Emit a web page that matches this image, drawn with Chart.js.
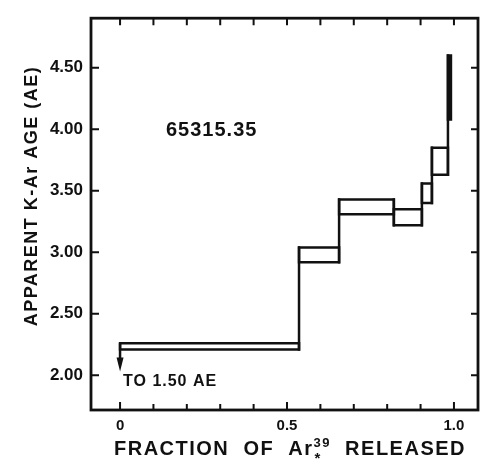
<!DOCTYPE html>
<html>
<head>
<meta charset="utf-8">
<script src="https://cdn.jsdelivr.net/npm/chart.js@4.4.0/dist/chart.umd.min.js"></script>
<style>
html,body{margin:0;padding:0;background:#fff;}
#wrap{width:483px;height:464px;}
</style>
</head>
<body>
<div id="wrap"><canvas id="c" width="483" height="464"></canvas></div>
<script>
// ---- data ----
const fractionEdges = [0, 0.536, 0.656, 0.820, 0.904, 0.934, 0.982, 0.991];
const ageLow  = [2.21, 2.92, 3.31, 3.22, 3.40, 3.63, 4.08];
const ageHigh = [2.26, 3.04, 3.43, 3.35, 3.56, 3.85, 4.60];
const arrowTipAge = 2.03;           // first step continues down (to 1.50 AE)
const xTickValues = [0, 0.1, 0.2, 0.3, 0.4, 0.5, 0.6, 0.7, 0.8, 0.9, 1.0];
const xTickLabels = ['0', '', '', '', '', '0.5', '', '', '', '', '1.0'];
const yTickValues = [2.0, 2.5, 3.0, 3.5, 4.0, 4.5];
const yTickLabels = ['2.00', '2.50', '3.00', '3.50', '4.00', '4.50'];
const sampleLabel = '65315.35';
const arrowLabel = 'TO 1.50 AE';
const yTitle = 'APPARENT K-Ar AGE (AE)';
const xTitleParts = ['FRACTION  OF  Ar', '39', '*', '  RELEASED'];

const INK = '#111';
const FONT = '"Liberation Sans", Arial, sans-serif';

function boxPoints(i) {
  const x0 = fractionEdges[i], x1 = fractionEdges[i + 1];
  const lo = ageLow[i], hi = ageHigh[i];
  return [{x: x0, y: lo}, {x: x0, y: hi}, {x: x1, y: hi}, {x: x1, y: lo}, {x: x0, y: lo}];
}

const datasets = [];
const nSteps = ageLow.length;
for (let i = 0; i < nSteps; i++) {
  const last = i === nSteps - 1;
  datasets.push({
    data: boxPoints(i),
    showLine: true,
    borderColor: INK,
    borderWidth: 2.5,
    backgroundColor: INK,
    fill: last ? 'shape' : false,
    pointRadius: 0,
    borderJoinStyle: 'miter',
    borderCapStyle: 'square',
    tension: 0
  });
}
// vertical connectors between successive steps
for (let i = 1; i < nSteps; i++) {
  const x = fractionEdges[i];
  datasets.push({
    data: [{x: x, y: Math.min(ageLow[i - 1], ageLow[i])}, {x: x, y: Math.max(ageHigh[i - 1], ageHigh[i])}],
    showLine: true, borderColor: INK, borderWidth: 2.5, pointRadius: 0, fill: false,
    borderCapStyle: 'square'
  });
}
// arrow shaft at fraction 0
datasets.push({
  data: [{x: fractionEdges[0], y: ageHigh[0]}, {x: fractionEdges[0], y: arrowTipAge + 0.06}],
  showLine: true, borderColor: INK, borderWidth: 2.5, pointRadius: 0, fill: false
});

const decorPlugin = {
  id: 'decor',
  beforeDatasetsDraw(chart) {
    const {ctx, chartArea: a, scales: {x, y}} = chart;
    ctx.save();
    ctx.strokeStyle = INK;
    ctx.lineWidth = 2.8;
    ctx.strokeRect(a.left, a.top, a.right - a.left, a.bottom - a.top);
    ctx.lineWidth = 2;
    ctx.beginPath();
    xTickValues.forEach((v, i) => {
      const px = x.getPixelForValue(v);
      const len = xTickLabels[i] ? 8 : 6;
      ctx.moveTo(px, a.bottom); ctx.lineTo(px, a.bottom - len);
      ctx.moveTo(px, a.top); ctx.lineTo(px, a.top + 7);
    });
    yTickValues.forEach(v => {
      const py = y.getPixelForValue(v);
      ctx.moveTo(a.left, py); ctx.lineTo(a.left + 8, py);
      ctx.moveTo(a.right, py); ctx.lineTo(a.right - 7, py);
    });
    ctx.stroke();
    ctx.restore();
  },
  afterDraw(chart) {
    const {ctx, chartArea: a, scales: {x, y}} = chart;
    ctx.save();
    ctx.fillStyle = INK;
    // arrow head
    const ax = x.getPixelForValue(fractionEdges[0]);
    const ay = y.getPixelForValue(arrowTipAge);
    ctx.beginPath();
    ctx.moveTo(ax, ay);
    ctx.lineTo(ax - 3.5, ay - 14);
    ctx.lineTo(ax + 3.5, ay - 14);
    ctx.closePath();
    ctx.fill();

    // annotations
    ctx.textBaseline = 'alphabetic';
    ctx.textAlign = 'left';
    ctx.letterSpacing = '1px';
    ctx.font = 'bold 20px ' + FONT;
    ctx.fillText(sampleLabel, 166, 136);
    ctx.font = 'bold 16px ' + FONT;
    ctx.fillText(arrowLabel, 123, 386);

    // y title
    ctx.save();
    ctx.translate(37, 196);
    ctx.rotate(-Math.PI / 2);
    ctx.textAlign = 'center';
    ctx.letterSpacing = '1.5px';
    ctx.font = 'bold 18px ' + FONT;
    ctx.fillText(yTitle, 0, 0);
    ctx.restore();

    // x title with superscript / subscript
    ctx.letterSpacing = '1.5px';
    const bigFont = 'bold 20px ' + FONT;
    const supFont = 'bold 13px ' + FONT;
    ctx.font = bigFont;
    const w1 = ctx.measureText(xTitleParts[0]).width;
    const w4 = ctx.measureText(xTitleParts[3]).width;
    ctx.font = supFont;
    const w2 = ctx.measureText(xTitleParts[1]).width;
    const total = w1 + w2 + w4;
    let cx = 290 - total / 2;
    const base = 455;
    ctx.font = bigFont;
    ctx.fillText(xTitleParts[0], cx, base);
    cx += w1;
    ctx.font = supFont;
    ctx.fillText(xTitleParts[1], cx, base - 8);
    ctx.font = 'bold 15px ' + FONT;
    ctx.fillText(xTitleParts[2], cx + 1, base + 8);
    cx += w2;
    ctx.font = bigFont;
    ctx.fillText(xTitleParts[3], cx, base);
    ctx.restore();
  }
};

new Chart(document.getElementById('c'), {
  type: 'scatter',
  data: {datasets: datasets},
  options: {
    responsive: false,
    animation: false,
    devicePixelRatio: 1,
    layout: {padding: {top: 15, right: 5, left: 0, bottom: 0}},
    plugins: {legend: {display: false}, tooltip: {enabled: false}},
    scales: {
      x: {
        type: 'linear',
        min: -0.087, max: 1.072,
        grid: {display: false, drawTicks: false},
        border: {display: false},
        afterBuildTicks: s => { s.ticks = xTickValues.map(v => ({value: v})); },
        afterFit: s => { s.height = 54; },
        ticks: {
          autoSkip: false, maxRotation: 0,
          color: INK, padding: 7,
          font: {family: FONT, size: 15, weight: 'bold'},
          callback: (v, i) => xTickLabels[i]
        }
      },
      y: {
        type: 'linear',
        min: 1.718, max: 4.903,
        grid: {display: false, drawTicks: false},
        border: {display: false},
        afterBuildTicks: s => { s.ticks = yTickValues.map(v => ({value: v})); },
        afterFit: s => { s.width = 91; },
        ticks: {
          autoSkip: false,
          color: INK, padding: 8,
          font: {family: FONT, size: 17, weight: 'bold'},
          callback: (v, i) => yTickLabels[i]
        }
      }
    }
  },
  plugins: [decorPlugin]
});
</script>
</body>
</html>
